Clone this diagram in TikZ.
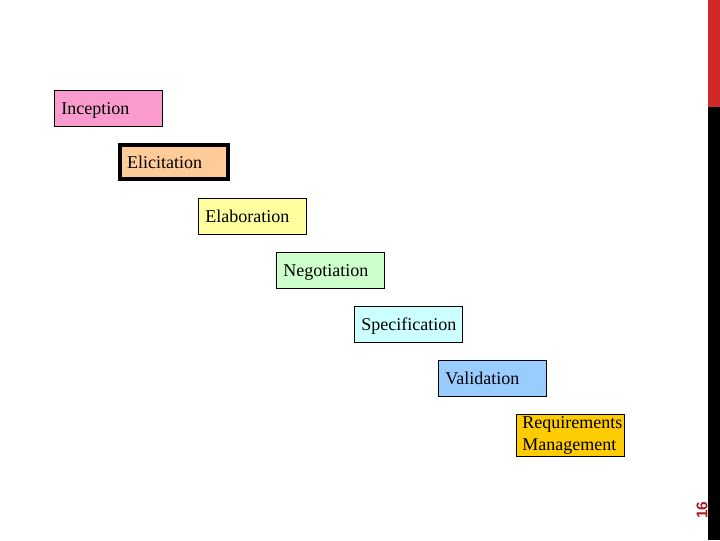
\documentclass[tikz,border=0pt]{standalone}
\usepackage{fontspec}
\setmainfont{Liberation Serif}
\newfontfamily\numfont{Liberation Sans}
\usepackage{tikz}
\definecolor{incpink}{RGB}{250,155,205}
\definecolor{elipeach}{RGB}{255,204,153}
\definecolor{elayellow}{RGB}{255,255,160}
\definecolor{neggreen}{RGB}{204,255,204}
\definecolor{speccyan}{RGB}{204,255,255}
\definecolor{valblue}{RGB}{153,204,255}
\definecolor{mgmtgold}{RGB}{255,204,0}
\definecolor{barred}{RGB}{210,40,40}
\definecolor{numred}{RGB}{170,30,40}

\begin{document}
\begin{tikzpicture}[x=0.025cm, y=-0.025cm,
    phase/.style={draw=black, line width=0.6pt, anchor=north west,
      minimum width=2.7cm, minimum height=0.9cm, text width=2.35cm,
      inner xsep=0.175cm, inner ysep=0pt, align=left,
      font=\fontsize{12.8}{15}\selectfont},
    oneline/.style={text depth=0pt}]
    \useasboundingbox (0,0) rectangle (720,540);
    % --- SIDE BAR ---
    \fill[black] (708,0) rectangle (720,540);
    \fill[barred] (708,0) rectangle (720,107);
    \node[rotate=90, text=numred, font=\numfont\bfseries\fontsize{11}{11}\selectfont] (pagenum) at (702,510) {16};

    % --- PHASES ---
    \node[phase, oneline, fill=incpink] (inception) at (54,90) {Inception};
    \node[phase, oneline, fill=elipeach, line width=3pt, minimum width=2.675cm, minimum height=0.85cm] (elicitation) at (118,143) {Elicitation};
    \node[phase, oneline, fill=elayellow] (elaboration) at (198,198) {Elaboration};
    \node[phase, oneline, fill=neggreen] (negotiation) at (276,252) {Negotiation};
    \node[phase, oneline, fill=speccyan] (specification) at (354,306) {Specification};
    \node[phase, oneline, fill=valblue] (validation) at (438,360) {Validation};
    \node[phase, fill=mgmtgold, minimum height=1.05cm, inner xsep=0.15cm, text width=2.4cm] (management) at (516,414) {Requirements\\Management};
\end{tikzpicture}
\end{document}
